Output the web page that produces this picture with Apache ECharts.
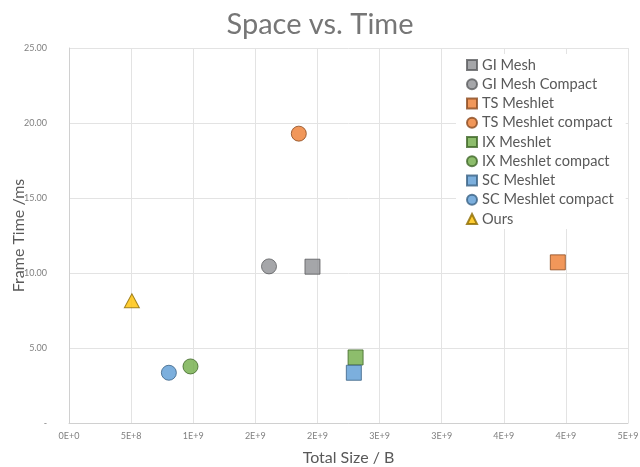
<!DOCTYPE html>
<html>
<head>
<meta charset="utf-8">
<script src="https://cdn.jsdelivr.net/npm/echarts@6/dist/echarts.min.js"></script>
<style>
  html, body { margin: 0; padding: 0; background: #fff; }
  #chart { width: 640px; height: 467px; }
</style>
</head>
<body>
<div id="chart"></div>
<script>
// Series names, in legend order
const seriesNames = [
  'GI Mesh', 'GI Mesh Compact',
  'TS Meshlet', 'TS Meshlet compact',
  'IX Meshlet', 'IX Meshlet compact',
  'SC Meshlet', 'SC Meshlet compact',
  'Ours'
];
// Total size in bytes for each series
const totalSize = [1.96e9, 1.61e9, 3.935e9, 1.85e9, 2.307e9, 0.978e9, 2.293e9, 0.804e9, 0.506e9];
// Frame time in ms for each series
const frameTime = [10.42, 10.44, 10.71, 19.29, 4.37, 3.77, 3.35, 3.35, 8.15];
// Tick labels
const xTickLabels = ['0E+0', '5E+8', '1E+9', '2E+9', '2E+9', '3E+9', '3E+9', '4E+9', '4E+9', '5E+9'];
const yTickLabels = ['-', '5.00', '10.00', '15.00', '20.00', '25.00'];

const symbols = ['rect', 'circle', 'rect', 'circle', 'rect', 'circle', 'rect', 'circle', 'triangle'];
const fills = ['#8f9094', '#8f9094', '#ed7d31', '#ed7d31', '#70ad47', '#70ad47', '#5b9bd5', '#5b9bd5', '#ffc000'];
const borders = ['#5a5b5e', '#5a5b5e', '#8a4a1f', '#8a4a1f', '#3f6628', '#3f6628', '#3a6285', '#3a6285', '#8c6a00'];

const FONT = 'Lato';
const series = seriesNames.map((name, i) => ({
  name: name,
  type: 'scatter',
  symbol: symbols[i],
  symbolSize: symbols[i] === 'triangle' ? [15, 14] : 15,
  itemStyle: { color: fills[i], borderColor: borders[i], borderWidth: 1 },
  emphasis: { disabled: true },
  data: [[totalSize[i], frameTime[i]]]
}));

const chart = echarts.init(document.getElementById('chart'), null, { renderer: 'canvas' });
chart.setOption({
  animation: false,
  backgroundColor: '#fff',
  textStyle: { fontFamily: FONT },
  title: {
    text: 'Space vs. Time',
    left: 'center',
    top: 5,
    textStyle: { fontFamily: FONT, fontSize: 29, fontWeight: 'normal', color: '#767676' }
  },
  legend: {
    orient: 'vertical',
    left: 456,
    top: 54,
    padding: [3, 12, 2, 10],
    backgroundColor: '#fff',
    itemWidth: 10,
    itemHeight: 10,
    itemGap: 3.25,
    data: seriesNames,
    textStyle: { fontFamily: FONT, fontSize: 14.6, color: '#595959', lineHeight: 16 }
  },
  grid: { left: 69, right: 12, top: 48, bottom: 44, outerBoundsMode: 'none' },
  xAxis: {
    type: 'value',
    min: 0,
    max: 4.5e9,
    interval: 5e8,
    name: 'Total Size / B',
    nameLocation: 'middle',
    nameGap: 27,
    nameMoveOverlap: false,
    nameTextStyle: { fontFamily: FONT, fontSize: 16, color: '#595959' },
    axisLine: { show: true, lineStyle: { color: '#d0d0d0' } },
    axisTick: { show: false },
    splitLine: { show: true, lineStyle: { color: '#e3e3e3' } },
    axisLabel: {
      fontFamily: FONT, fontSize: 9, color: '#808080', margin: 9,
      formatter: v => xTickLabels[Math.round(v / 5e8)]
    }
  },
  yAxis: {
    type: 'value',
    min: 0,
    max: 25,
    interval: 5,
    name: 'Frame Time /ms',
    nameLocation: 'middle',
    nameGap: 42,
    nameMoveOverlap: false,
    nameTextStyle: { fontFamily: FONT, fontSize: 16, color: '#595959' },
    axisLine: { show: true, lineStyle: { color: '#d0d0d0' } },
    axisTick: { show: false },
    splitLine: { show: true, lineStyle: { color: '#e3e3e3' } },
    axisLabel: {
      fontFamily: FONT, fontSize: 9, color: '#808080', margin: 22,
      formatter: v => yTickLabels[Math.round(v / 5)]
    }
  },
  series: series
});
</script>
</body>
</html>
